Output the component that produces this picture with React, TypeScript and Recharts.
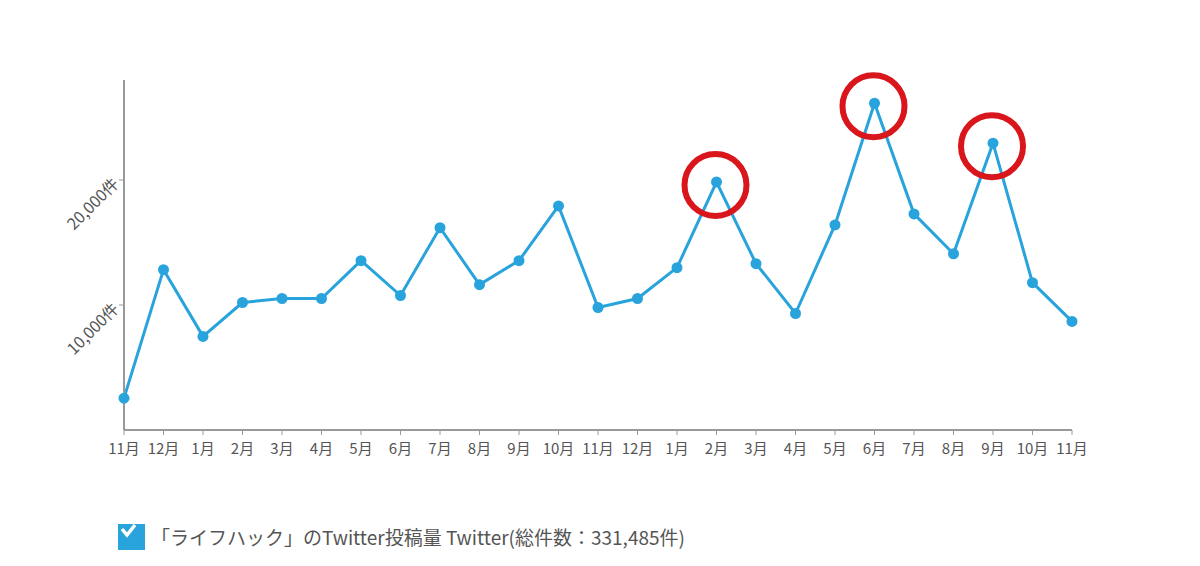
import React from 'react';
import { LineChart, Line, XAxis, YAxis, Legend } from 'recharts';

const months = ['11月','12月','1月','2月','3月','4月','5月','6月','7月','8月','9月','10月','11月','12月','1月','2月','3月','4月','5月','6月','7月','8月','9月','10月','11月'];
const posts = [2550,12830,7490,10200,10520,10520,13550,10760,16180,11630,13550,17930,9800,10520,12990,19840,13310,9320,16410,26140,17290,14100,22950,11790,8690];
const highlighted = [15, 19, 22];
const yTicks = [10000, 20000];
const legendLabel = '「ライフハック」のTwitter投稿量 Twitter(総件数：331,485件)';

const data = months.map((m, i) => ({ month: m, posts: posts[i] }));

const FONT = '"Noto Sans CJK JP", "Noto Sans", sans-serif';
const BLUE = '#29a3db';

const YTick = (props: any) => {
  const { x, y, payload } = props;
  return (
    <text x={x - 2} y={y} transform={`rotate(-45, ${x - 2}, ${y})`} textAnchor="end" dominantBaseline="central" fill="#555" fontSize={16} fontFamily={FONT}>
      {payload.value.toLocaleString('en-US')}件
    </text>
  );
};

const XTick = (props: any) => {
  const { x, y, payload } = props;
  return (
    <text x={x} y={y + 17} textAnchor="middle" fill="#555" fontSize={15} fontFamily={FONT}>
      {payload.value}
    </text>
  );
};

const Dot = (props: any) => {
  const { cx, cy, index } = props;
  return (
    <g key={`dot-${index}`}>
      <circle cx={cx} cy={cy} r={5.5} fill={BLUE} />
      {highlighted.includes(index) && (
        <circle cx={cx - 1} cy={cy + 3} r={31} fill="none" stroke="#d8161c" strokeWidth={6} />
      )}
    </g>
  );
};

const LegendContent = () => (
  <div style={{ display: 'flex', alignItems: 'center', fontFamily: FONT, color: '#555', fontSize: 19, whiteSpace: 'nowrap' }}>
    <svg width={27} height={26} style={{ marginRight: 6, flex: 'none' }}>
      <rect x={0} y={0} width={27} height={26} fill={BLUE} />
      <path d="M4 5 L9 11 L17 1" stroke="#fff" strokeWidth={3.5} fill="none" />
    </svg>
    <span>{legendLabel}</span>
  </div>
);

export default function App() {
  return (
    <div style={{ position: 'absolute', left: 0, top: 0, width: 1200, height: 566, background: '#fff' }}>
      <LineChart width={1200} height={566} data={data} margin={{ top: 80, right: 128, left: 64, bottom: 106 }}>
        <XAxis dataKey="month" tick={<XTick />} axisLine={{ stroke: '#999', strokeWidth: 2 }} tickLine={{ stroke: '#999' }} tickSize={5} interval={0} height={30} />
        <YAxis domain={[0, 28000]} ticks={yTicks} tick={<YTick />} axisLine={{ stroke: '#999', strokeWidth: 2 }} tickLine={{ stroke: '#999' }} tickSize={5} width={60} />
        <Line dataKey="posts" stroke={BLUE} strokeWidth={3} dot={Dot} activeDot={false} isAnimationActive={false} />
        <Legend content={<LegendContent />} height={0} wrapperStyle={{ position: 'absolute', left: 118, top: 523, width: 800, height: 0 }} />
      </LineChart>
    </div>
  );
}
